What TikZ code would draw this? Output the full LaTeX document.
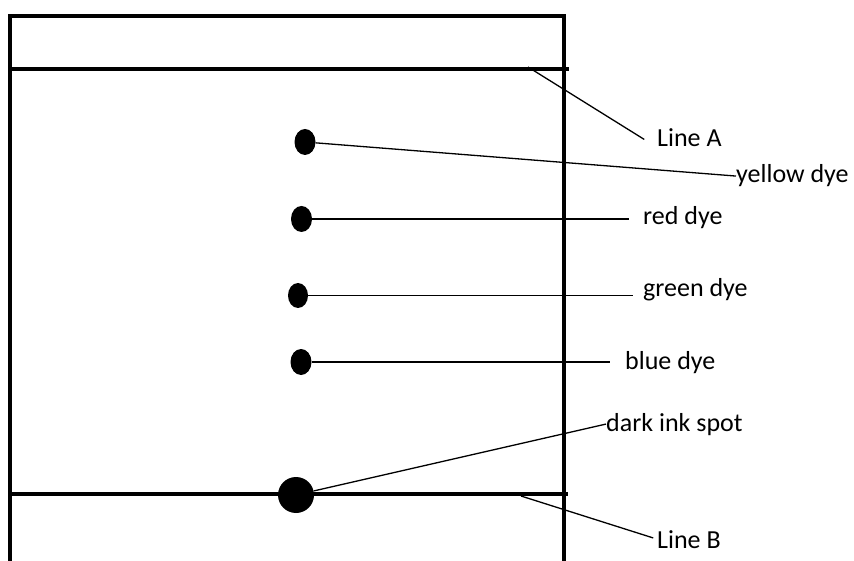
\documentclass[tikz,border=0pt]{standalone}
\usepackage{fontspec}
\setmainfont{Carlito}
\usetikzlibrary{shapes.geometric,positioning}

\begin{document}
\begin{tikzpicture}[x=1pt, y=-1pt]
\tikzstyle{frame}=[line width=4pt]
\tikzstyle{spot}=[ellipse, fill=black, inner sep=0pt, minimum width=21pt, minimum height=26pt]
\tikzstyle{tag}=[anchor=base west, inner sep=0pt, font=\fontsize{26}{30}\selectfont]
\tikzstyle{lead}=[line width=1.3pt]
\useasboundingbox (0,0) rectangle (854,561);

% paper strip, Line A and Line B
\draw[frame] (10,561) -- (10,16.5) -- (564,16.5) -- (564,561);
\draw[frame] (8,69) -- (569,69);
\draw[frame] (8,494) -- (568,494);

\node[spot] (sY)  at (305,142) {};
\node[spot] (sR)  at (301.5,219) {};
\node[spot, minimum width=20pt, minimum height=25pt] (sG) at (298,295.5) {};
\node[spot] (sBl) at (301,362) {};
\node[spot, circle, minimum size=36pt] (sK) at (296,495) {};

\node[tag] (tA)  at (657,147) {Line A};
\node[tag] (tY)  at (736,183) {yellow dye};
\node[tag] (tR)  at (643,225) {red dye};
\node[tag] (tG)  at (643,297) {green dye};
\node[tag] (tBl) at (625,369) {blue dye};
\node[tag] (tK)  at (606,431) {dark ink spot};
\node[tag] (tB)  at (657,548) {Line B};

\coordinate (pA) at (528,67);
\coordinate (pB) at (521,496);

\draw[lead, shorten >=15pt] (pA) -- (tA.south west);
\draw[lead] (sY) -- (tY.west);
\foreach \s/\t/\g in {sR/tR/14pt, sG/tG/10pt, sBl/tBl/15pt}
{\draw[lead, shorten >=\g] (\s) -- (\s -| \t.west);}
\draw[lead] (sK) -- (tK.west);
\draw[lead, shorten >=4pt] (pB) -- (tB.west);
\end{tikzpicture}
\end{document}
